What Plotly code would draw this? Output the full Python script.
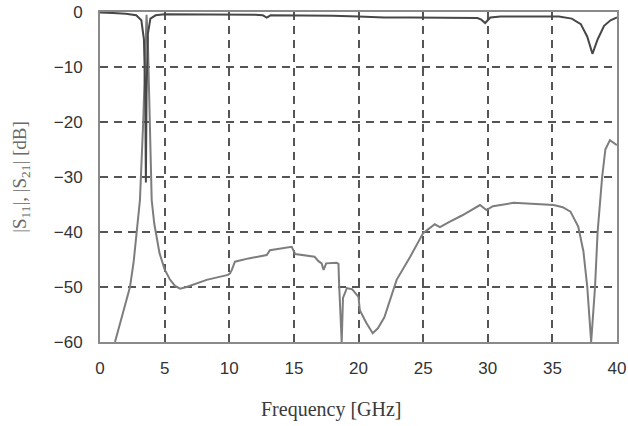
import plotly.graph_objects as go

# S21 (transmission), dark curve
f21 = [0, 0.5, 1, 2, 2.8, 3.2, 3.4, 3.5, 3.55, 3.6, 3.7, 3.9, 4.3, 5, 8, 10, 12,
       12.6, 12.9, 13.2, 14, 16, 18, 20, 22, 24, 26, 28, 29.2, 29.5, 29.8, 30.2,
       31, 34, 35.5, 36.5, 37.2, 37.7, 38.1, 38.5, 39, 39.5, 40]
s21 = [-0.1, -0.1, -0.2, -0.3, -0.6, -1.5, -5, -15, -31, -15, -4, -1.2, -0.6,
       -0.4, -0.4, -0.4, -0.5, -0.6, -1.0, -0.6, -0.6, -0.7, -0.7, -0.8, -1.0,
       -1.0, -1.0, -1.0, -1.1, -1.4, -2.0, -1.0, -0.8, -0.8, -0.8, -1.2, -2.2,
       -4.5, -7.6, -5.0, -2.5, -1.5, -1.0]

# S11 (reflection), lighter curve
f11 = [1.16, 1.6, 2.06, 2.32, 2.6, 2.84, 3.09, 3.35, 3.5, 3.6, 3.7, 3.8, 4.0,
       4.2, 4.6, 5.0, 5.4, 5.8, 6.2, 6.7, 8.25, 9.9, 10.06, 10.2, 10.44, 11.5,
       12.9, 13.15, 14.83, 15.1, 16.6, 16.9, 17.15, 17.3, 17.5, 18.3, 18.45,
       18.5, 18.7, 18.8, 19.1, 19.5, 20.0, 20.1, 20.6, 21.1, 21.5, 22.0, 22.95,
       24.0, 25.0, 25.9, 26.3, 27.0, 28.0, 29.4, 29.9, 30.4, 32.0, 35.1, 35.8,
       36.4, 37.0, 37.4, 37.7, 38.0, 38.3, 38.5, 38.85, 39.1, 39.45, 40.0]
s11 = [-60, -56.3, -52.4, -50, -45.5, -40.2, -34.2, -19.6, -5, -0.5, -5, -15,
       -34.2, -38.5, -43.8, -46.8, -48.6, -49.8, -50.3, -50, -48.7, -47.8, -47.5,
       -46.9, -45.4, -44.8, -44.2, -43.3, -42.7, -44.0, -44.5, -45.3, -45.7,
       -46.9, -45.7, -45.6, -45.8, -49.5, -60, -52, -50.2, -50.4, -51.8, -54.2,
       -56.5, -58.4, -57.5, -55.5, -48.7, -44.5, -40.2, -38.6, -39.1, -38.2,
       -37.0, -35.1, -36.0, -35.3, -34.7, -35.1, -35.5, -36.3, -39.0, -43.5,
       -50, -60, -50, -40, -30, -25, -23.3, -24.2]

xticks = [0, 5, 10, 15, 20, 25, 30, 35, 40]
yticks = [0, -10, -20, -30, -40, -50, -60]

fig = go.Figure()
fig.add_trace(go.Scatter(x=f11, y=s11, mode="lines",
                         line=dict(color="#7d7d7d", width=2), name="S11"))
fig.add_trace(go.Scatter(x=f21, y=s21, mode="lines",
                         line=dict(color="#474747", width=2), name="S21"))

axis_common = dict(
    showline=True, mirror=True, linecolor="#8a8a8a", linewidth=2,
    showgrid=True, gridcolor="#555555", gridwidth=1.5, griddash="8px,6px",
    zeroline=False, ticks="", automargin=False,
    tickfont=dict(family="Liberation Sans, Arial", size=17, color="#333333"),
)

fig.update_xaxes(range=[0, 40], tickvals=xticks, ticklabelstandoff=10, **axis_common)
fig.update_yaxes(range=[-60, 0], tickvals=yticks, ticklabelstandoff=12, **axis_common,
                 title=dict(text="|S<sub>11</sub>|, |S<sub>21</sub>| [dB]", standoff=22,
                            font=dict(family="Liberation Serif, Times New Roman", size=19, color="#6a6a6a")))

fig.add_annotation(text="Frequency [GHz]", xref="paper", yref="paper",
                   x=0.447, y=-0.205, xanchor="center", yanchor="middle", showarrow=False,
                   font=dict(family="Liberation Serif, Times New Roman", size=20, color="#3a3a3a"))

fig.update_layout(
    width=628, height=426,
    margin=dict(l=100, r=11, t=12, b=84),
    paper_bgcolor="white", plot_bgcolor="white",
    showlegend=False,
)

fig.write_html("out.html")
